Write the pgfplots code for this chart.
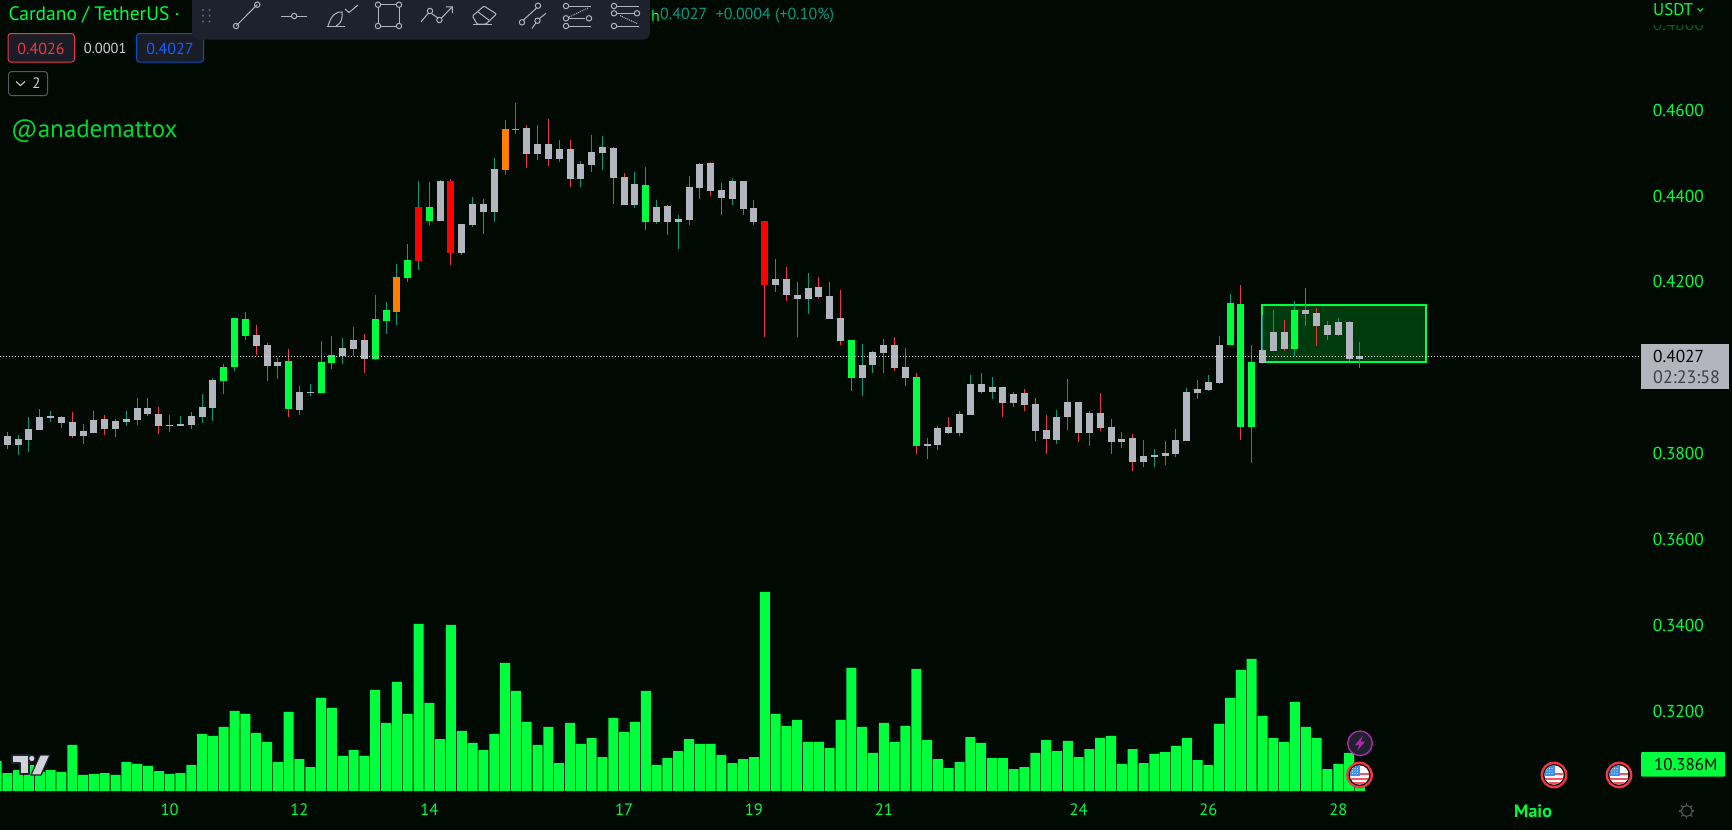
\documentclass[border=0pt]{standalone}
\usepackage{fontspec}
\usepackage{pgfplots}
\usepackage{pgfplotstable}
\pgfplotsset{compat=1.18}
\setmainfont{PT Sans}
\definecolor{bg}{HTML}{000A02}
\definecolor{lime}{HTML}{00FF3C}
\definecolor{bodygray}{HTML}{B2B5BE}
\definecolor{bodyred}{HTML}{FF0000}
\definecolor{bodyorange}{HTML}{FF8000}
\definecolor{wickteal}{HTML}{089981}
\definecolor{wickred}{HTML}{F23645}
\definecolor{toolbar}{HTML}{1E222D}
\definecolor{boxfill}{HTML}{1A1D26}
\definecolor{icon}{HTML}{B2B5BE}
\pgfplotstableread{
i l h b t
1 .3797 .3844 .3821 .3834
2 .3804 .3886 .3832 .3858
3 .3855 .3904 .3855 .3886
4 .3874 .3900 .3883 .3888
7 .3823 .3869 .3841 .3853
8 .3848 .3900 .3848 .3879
10 .3839 .3881 .3858 .3876
11 .3865 .3900 .3874 .3881
12 .3867 .3930 .3879 .3907
15 .3851 .3890 .3865 .3867
16 .3865 .3888 .3865 .3869
17 .3858 .3897 .3867 .3888
18 .3872 .3939 .3886 .3909
19 .3876 .3976 .3907 .3972
25 .3974 .4023 .4004 .4014
27 .3890 .3958 .3902 .3944
28 .3935 .3962 .3942 .3944
31 .4009 .4069 .4028 .4046
32 .4028 .4095 .4044 .4065
40 .4342 .4437 .4342 .4435
42 .4263 .4335 .4267 .4335
43 .4328 .4398 .4332 .4381
45 .4339 .4488 .4363 .4463
49 .4484 .4565 .4498 .4521
51 .4479 .4530 .4486 .4509
53 .4421 .4481 .4439 .4474
54 .4456 .4542 .4472 .4502
55 .4460 .4540 .4500 .4514
58 .4372 .4456 .4379 .4428
60 .4335 .4391 .4339 .4374
62 .4277 .4356 .4339 .4346
63 .4332 .4446 .4344 .4421
64 .4393 .4477 .4419 .4474
67 .4379 .4442 .4393 .4435
71 .4177 .4253 .4193 .4207
74 .4125 .4221 .4160 .4186
79 .3935 .4056 .3976 .4007
80 .3988 .4039 .4007 .4037
81 .3988 .4067 .4035 .4053
85 .3788 .3837 .3818 .3823
86 .3809 .3865 .3821 .3860
88 .3842 .3900 .3849 .3893
89 .3890 .3983 .3890 .3962
91 .3928 .3979 .3944 .3956
93 .3909 .3944 .3918 .3939
97 .3823 .3902 .3832 .3886
98 .3855 .3974 .3886 .3921
100 .3818 .3900 .3849 .3895
103 .3814 .3851 .3828 .3835
105 .3769 .3832 .3781 .3795
106 .3769 .3811 .3793 .3797
107 .3774 .3830 .3795 .3802
108 .3793 .3858 .3800 .3832
109 .3830 .3953 .3830 .3944
110 .3928 .3972 .3942 .3951
111 .3946 .3983 .3949 .3967
112 .3962 .4074 .3965 .4053
116 .4009 .4123 .4011 .4042
117 .4039 .4135 .4039 .4083
123 .4074 .4116 .4076 .4107
125 .4000 .4060 .4021 .4027
}\grayup
\pgfplotstableread{
i l h b t
0 .3811 .3851 .3821 .3841
5 .3860 .3888 .3872 .3886
6 .3837 .3897 .3841 .3874
9 .3844 .3890 .3858 .3881
13 .3888 .3930 .3893 .3907
14 .3846 .3909 .3865 .3893
23 .4030 .4100 .4051 .4076
24 .3969 .4058 .4004 .4053
33 .3988 .4079 .4021 .4065
44 .4311 .4393 .4363 .4381
48 .4465 .4565 .4498 .4558
50 .4470 .4579 .4486 .4521
52 .4421 .4530 .4439 .4509
56 .4381 .4514 .4442 .4512
57 .4379 .4453 .4379 .4444
61 .4309 .4379 .4339 .4377
65 .4400 .4479 .4412 .4477
66 .4356 .4430 .4395 .4414
68 .4356 .4435 .4370 .4435
69 .4332 .4391 .4339 .4372
72 .4156 .4235 .4169 .4207
73 .4072 .4200 .4160 .4169
75 .4160 .4211 .4165 .4188
76 .4114 .4200 .4114 .4167
77 .4053 .4181 .4062 .4116
82 .3993 .4072 .4000 .4053
83 .3958 .4046 .3976 .4002
87 .3846 .3886 .3849 .3862
90 .3942 .3988 .3944 .3962
92 .3886 .3956 .3918 .3956
94 .3900 .3951 .3914 .3942
95 .3830 .3930 .3853 .3916
96 .3800 .3890 .3835 .3855
99 .3828 .3921 .3849 .3921
101 .3853 .3942 .3860 .3895
102 .3800 .3881 .3828 .3862
104 .3760 .3846 .3781 .3837
118 .4039 .4111 .4044 .4083
120 .4097 .4186 .4125 .4135
121 .4051 .4139 .4097 .4128
122 .4065 .4109 .4076 .4100
124 .4016 .4109 .4021 .4107
}\graydown
\pgfplotstableread{
i l h b t
20 .3939 .4009 .3969 .4002
21 .3993 .4116 .4002 .4116
29 .3942 .4062 .3942 .4014
30 .3997 .4074 .4011 .4030
34 .4018 .4169 .4021 .4114
35 .4079 .4153 .4109 .4135
37 .4200 .4288 .4209 .4251
47 .4544 .4616 .4553 .4556
113 .4053 .4172 .4053 .4151
115 .3779 .4053 .3862 .4014
119 .4028 .4156 .4044 .4135
}\greenup
\pgfplotstableread{
i l h b t
22 .4065 .4130 .4074 .4114
26 .3886 .4044 .3904 .4016
39 .4332 .4432 .4342 .4374
59 .4321 .4467 .4339 .4426
78 .3946 .4065 .3976 .4065
84 .3800 .3988 .3818 .3979
114 .3832 .4193 .3862 .4149
}\greendown
\pgfplotstableread{
i l h b t
38 .4228 .4435 .4249 .4374
}\redup
\pgfplotstableread{
i l h b t
41 .4239 .4439 .4267 .4435
70 .4072 .4342 .4193 .4342
}\reddown
\pgfplotstableread{
i l h b t
36 .4100 .4242 .4130 .4211
46 .4449 .4577 .4460 .4556
}\orangeup
\pgfplotstableread{
i v
-1 11.67
0 7.00
1 8.17
2 10.10
3 7.50
4 8.17
5 7.39
6 17.90
7 6.23
8 6.61
9 7.00
10 6.23
11 11.28
12 10.51
13 9.73
14 7.78
15 6.61
16 7.00
17 10.12
18 22.18
19 21.40
20 24.90
21 31.13
22 29.96
23 22.57
24 19.07
25 11.28
26 30.74
27 12.45
28 9.34
29 36.19
30 32.30
31 13.62
32 15.95
33 13.62
34 39.30
35 26.46
36 42.41
37 29.96
38 64.98
39 34.24
40 20.23
41 64.59
42 23.35
43 18.68
44 15.95
45 22.18
46 49.80
47 38.91
48 26.85
49 17.90
50 24.90
51 10.89
52 26.46
53 18.29
54 20.62
55 13.23
56 28.40
57 22.96
58 26.85
59 38.91
60 10.12
61 12.84
62 15.56
63 20.23
64 18.29
65 18.29
66 14.01
67 10.89
68 12.45
69 13.23
70 77.43
71 29.96
72 25.29
73 27.63
74 19.07
75 19.07
76 16.73
77 27.63
78 47.86
79 24.90
80 14.79
81 26.46
82 19.07
83 25.29
84 47.47
85 19.84
86 12.45
87 8.95
88 11.28
89 21.01
90 18.68
91 12.84
92 12.84
93 8.56
94 9.34
95 14.79
96 19.84
97 15.56
98 19.46
99 13.23
100 16.34
101 20.62
102 21.40
103 10.51
104 16.34
105 10.89
106 14.40
107 15.17
108 17.51
109 20.62
110 12.06
111 10.12
112 26.07
113 36.19
114 47.08
115 51.36
116 29.18
117 20.62
118 19.07
119 34.63
120 24.90
121 20.62
122 8.56
123 10.51
124 14.79
125 10.386
}\volume
\newcommand\candles[3]{%
 \addplot[draw=none,mark=none,forget plot,error bars/.cd,y dir=plus,y explicit,error mark=none,
   error bar style={line width=1pt,color=#3}]
   table[x=i,y=l,y error plus expr=\thisrow{h}-\thisrow{l}]{#1};
 \addplot[draw=none,mark=none,forget plot,error bars/.cd,y dir=plus,y explicit,error mark=none,
   error bar style={line width=7pt,color=#2}]
   table[x=i,y=b,y error plus expr=\thisrow{t}-\thisrow{b}]{#1};
}
\newcommand\flagicon[2]{%
 \begin{scope}[shift={(#1,#2)}]
  \fill[wickred] (0,0) circle (13.4);
  \fill[bg!70!toolbar] (0,0) circle (11);
  \begin{scope}
   \clip (0,0) circle (9.6);
   \fill[white] (-10,-10) rectangle (10,10);
   \fill[F23645red] (-10,-2.2) rectangle (10,0.4);
   \fill[F23645red] (-10,2.6) rectangle (10,5.2);
   \fill[F23645red] (-10,7.2) rectangle (10,10);
   \fill[blue2] (-10,-10) rectangle (0.5,1);
   \foreach \a in {-7,-4.5,-2}{\foreach \b in {-6.5,-4,-1.5}{\fill[white!80!blue2] (\a,\b) circle (0.6);}}
  \end{scope}
 \end{scope}}
\colorlet{F23645red}{wickred!85!white}
\definecolor{blue2}{HTML}{3F8FE8}
\begin{document}
\begin{tikzpicture}
\path[use as bounding box,fill=bg] (0pt,0pt) rectangle (1732pt,-830pt);
\begin{axis}[at={(0pt,-798pt)},anchor=south west,scale only axis,width=1642pt,height=798pt,
  xmin=-0.677,xmax=151.07,ymin=0.29993,ymax=0.48559,
  axis line style={draw=none},major tick length=0pt,
  xtick={15,27,39,57,69,81,99,111,123,141},
  xticklabels={10,12,14,17,19,21,24,26,28,\textbf{\fontsize{18}{18}\selectfont Maio}},
  ytick={0.32,0.34,0.36,0.38,0.42,0.44,0.46},
  yticklabel pos=right,
  /pgf/number format/assume math mode=true,
  /pgf/number format/fixed,/pgf/number format/fixed zerofill,/pgf/number format/precision=4,
  yticklabel style={font=\fontsize{17.3}{17.3}\selectfont,color=lime,inner sep=0pt,anchor=west,xshift=10.7pt},
  xticklabel style={font=\fontsize{16.5}{16.5}\selectfont,color=lime,inner sep=0pt,anchor=north,yshift=-6pt},
  clip=true]
 \addplot[fill=lime!20!bg,draw=lime,line width=2pt,forget plot] coordinates
   {(115.96,.4146)(131.1,.4146)(131.1,.40144)(115.96,.40144)} -- cycle;
 \candles{\grayup}{bodygray}{wickteal}
 \candles{\graydown}{bodygray}{wickred}
 \candles{\greenup}{lime}{wickteal}
 \candles{\greendown}{lime}{wickred}
 \candles{\redup}{bodyred}{wickteal}
 \candles{\reddown}{bodyred}{wickred}
 \candles{\orangeup}{bodyorange}{wickteal}
 \addplot[color=white!85!bg,line width=1pt,dash pattern=on 1pt off 2pt,forget plot] coordinates {(-0.677,.4027)(151.07,.4027)};
\end{axis}
\begin{axis}[at={(0pt,-798pt)},anchor=south west,scale only axis,width=1642pt,height=798pt,
  xmin=-0.677,xmax=151.07,ymin=-2.723,ymax=307.7,hide axis]
 \addplot[ybar,bar width=10pt,bar shift=0pt,fill=lime,draw=none] table[x=i,y=v]{\volume};
\end{axis}
\begin{scope}[x=1pt,y=-1pt]
% price and volume tags
\fill[bodygray] (1641,344) rectangle (1729,389);
\node[anchor=west,inner sep=0,font=\fontsize{17.3}{17.3}\selectfont,color=black!85!toolbar] at (1653,356.5) {0.4027};
\node[anchor=west,inner sep=0,font=\fontsize{18}{18}\selectfont,color=toolbar!80!bodygray] at (1653,376.7) {02:23:58};
\fill[lime,rounded corners=1pt] (1641,752) rectangle (1725,776.7);
\node[anchor=west,inner sep=0,font=\fontsize{17}{17}\selectfont,color=black] at (1654,764.3) {10.386M};
% faded top tick
\begin{scope}
 \clip (1640,25) rectangle (1732,31);
 \node[anchor=west,inner sep=0,font=\fontsize{17.3}{17.3}\selectfont,color=lime!35!bg] at (1652.7,24) {0.4800};
\end{scope}
\node[anchor=west,inner sep=0,font=\fontsize{17}{17}\selectfont,color=lime] at (1653,10) {USDT};
\draw[lime,line width=1pt] (1697.5,8.5)--(1700.3,11)--(1703,8.5);
% gear
\draw[gray!60!bg,line width=1.3pt] (1686.7,811) circle (5.5);
\foreach \a in {0,45,...,315}{\draw[gray!60!bg,line width=1.4pt] (1686.7,811)++(\a:5.5)--++(\a:2.2);}
% flags and event
\flagicon{1359.5}{775}
\flagicon{1554}{775}
\flagicon{1619}{775}
\fill[toolbar] (1360,743.3) circle (12.5);
\draw[violet!70!magenta!85!white,line width=1.4pt] (1360,743.3) circle (12.3);
\fill[violet!70!magenta!85!white] (1363,735.5)--(1355,745)--(1359.5,745)--(1357,751)--(1365,741.5)--(1360.5,741.5)--cycle;
% tradingview logo
\begin{scope}[line join=round]
 \filldraw[fill=icon!60!white,draw=toolbar,line width=1.3pt] (12,755)--(29,755)--(29,774)--(20,774)--(20,763)--(12,763)--cycle;
 \filldraw[fill=icon!60!white,draw=toolbar,line width=1.3pt] (31.8,758.5) circle (3.4);
 \filldraw[fill=icon!60!white,draw=toolbar,line width=1.3pt] (40,755)--(50,755)--(41,775)--(31,775)--cycle;
\end{scope}
% header text
\node[anchor=west,inner sep=0,font=\fontsize{19.5}{19.5}\selectfont,color=lime] at (8.4,15) {Cardano / TetherUS ·};
\node[anchor=west,inner sep=0,font=\fontsize{16}{16}\selectfont,color=wickteal] at (660,15.5) {0.4027\ \ +0.0004 (+0.10\%)};
\node[anchor=east,inner sep=0,font=\fontsize{16}{16}\selectfont,color=lime] at (660,15.5) {h};
\filldraw[fill=boxfill,draw=wickred,line width=1pt,rounded corners=3pt] (8,33.5) rectangle (74.5,62);
\node[inner sep=0,font=\fontsize{16}{16}\selectfont,color=wickred] at (41,49) {0.4026};
\node[inner sep=0,font=\fontsize{14.5}{14.5}\selectfont,color=icon!60!white] at (105.2,48.5) {0.0001};
\filldraw[fill=boxfill,draw=blue!60!cyan!80!black,line width=1pt,rounded corners=3pt] (136.5,33.5) rectangle (203.7,62);
\node[inner sep=0,font=\fontsize{16}{16}\selectfont,color=blue!70!cyan!90!white] at (170,49) {0.4027};
\draw[draw=toolbar!75!white,line width=1pt,rounded corners=3pt] (8.5,71.5) rectangle (47.5,95.5);
\draw[icon!60!white,line width=1pt] (16,81.5)--(20.5,85.5)--(25,81.5);
\node[inner sep=0,font=\fontsize{15}{15}\selectfont,color=icon!60!white] at (36.5,83.5) {2};
\node[anchor=west,inner sep=0,font=\fontsize{25}{25}\selectfont,color=lime!85!black] at (11,131.5) {@anademattox};
% toolbar
\fill[toolbar,rounded corners=7pt] (192,-8) rectangle (650,39.5);
\foreach \xx in {203,209.5}{\foreach \yy in {10,15.7,21.5}{\fill[icon!45!toolbar] (\xx,\yy) circle (1.2);}}
\begin{scope}[draw=icon,line width=1pt]
 \draw (236,26)--(257.2,4.7); \draw (236,26) circle (2.7); \draw (257.2,4.7) circle (2.7);
 \draw (281,16)--(291.5,16) (297,16)--(307,16); \draw (294.2,16) circle (2.7);
 \draw (326.5,26.5)--(345,26.5); \draw (328,26) .. controls (331,15) and (337,11) .. (342,12) .. controls (343,18) and (341,24) .. (336,26); \draw (345,9)--(349,12.5)--(358,5);
 \draw (378,7.4)--(378,23.3) (399,7.4)--(399,23.3) (380.7,4.7)--(396.3,4.7) (380.7,26)--(396.3,26);
 \foreach \p in {(378,4.7),(399,4.7),(378,26),(399,26)}{\draw \p circle (2.7);}
 \draw (421,21.7)--(428.5,13) (431.5,13.5)--(438,18) (441.5,18)--(452,7); \draw (446,7)--(452.4,6.8)--(452.4,13);
 \draw (430,11) circle (2.7); \draw (439.4,20) circle (2.7);
 \draw[rounded corners=1pt] (472.5,16)--(484,6)--(496.5,14)--(486,24)--(477,24)--cycle; \draw (478,12)--(490,21); \draw (473,24.5)--(492,24.5);
 \draw (523.5,20)--(536.5,8) (532,28.5)--(535.8,23) (539.5,18.5)--(546,13.3);
 \foreach \p in {(522,22.3),(538,5.7),(537.5,20.7)}{\draw \p circle (2.7);}
 \draw (567.5,6)--(591,6) (569,18.3)--(585,18.3) (569,26)--(591,26);
 \foreach \p in {(566,6),(566,18.3),(589,18.3),(566,26)}{\draw \p circle (2.7);}
 \draw[densely dotted] (569,17)--(588,8);
 \draw (616.5,6)--(639,6) (617,13.3)--(634,13.3) (617,26)--(639,26);
 \foreach \p in {(614,6),(614,13.3),(637,13.3),(614,26)}{\draw \p circle (2.7);}
 \draw[densely dotted] (620,15.5)--(638,24);
\end{scope}
\end{scope}
\end{tikzpicture}
\end{document}
